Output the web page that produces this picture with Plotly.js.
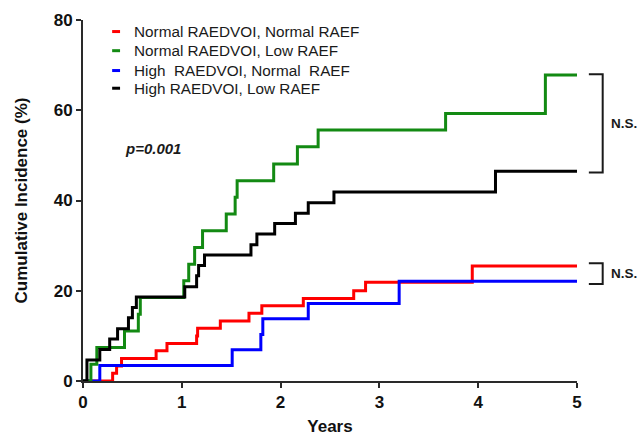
<!DOCTYPE html>
<html>
<head>
<meta charset="utf-8">
<script src="https://cdn.plot.ly/plotly-3.0.1.min.js"></script>
<style>html,body{margin:0;padding:0;background:#fff;} #chart{width:644px;height:436px;}</style>
</head>
<body>
<div id="chart"></div>
<script>
// ---- data ----
const seriesNames = [
  "Normal RAEDVOI, Normal RAEF",
  "Normal RAEDVOI, Low RAEF",
  "High  RAEDVOI, Normal  RAEF",
  "High RAEDVOI, Low RAEF"
];
const seriesColors = ["#ff0000", "#138a13", "#0000ff", "#000000"];

const redYears   = [0, 0.30, 0.34, 0.39, 0.74, 0.85, 1.15, 1.16, 1.39, 1.68, 1.81, 2.23, 2.74, 2.86, 3.94, 5];
const redValues  = [0, 1.7, 3.3, 5.0, 6.7, 8.3, 10.0, 11.7, 13.3, 15.0, 16.7, 18.3, 20.0, 21.9, 25.5, 25.5];

const greenYears  = [0, 0.08, 0.14, 0.42, 0.56, 0.58, 1.02, 1.07, 1.13, 1.21, 1.45, 1.54, 1.56, 1.93, 2.17, 2.38, 3.67, 4.68, 5];
const greenValues = [0, 3.7, 7.4, 11.1, 14.8, 18.5, 22.2, 25.9, 29.6, 33.3, 37.0, 40.7, 44.4, 48.1, 51.9, 55.6, 59.3, 67.8, 67.8];

const blueYears  = [0, 0.17, 1.51, 1.80, 1.82, 2.28, 3.20, 5];
const blueValues = [0, 3.45, 6.9, 10.3, 13.8, 17.2, 22.1, 22.1];

const blackYears  = [0, 0.04, 0.17, 0.27, 0.35, 0.46, 0.50, 0.54, 1.03, 1.15, 1.17, 1.23, 1.70, 1.76, 1.94, 2.15, 2.28, 2.54, 4.175, 5];
const blackValues = [0, 4.65, 7.0, 9.3, 11.6, 14.0, 16.3, 18.6, 20.9, 23.3, 25.6, 27.9, 30.2, 32.6, 34.9, 37.2, 39.5, 41.9, 46.5, 46.5];

const xTicks = [0, 1, 2, 3, 4, 5];
const yTicks = [0, 20, 40, 60, 80];
const pText = "p=0.001";
const nsText = "N.S.";

// ---- build ----
const FONT = "'Liberation Sans', Arial, Helvetica, sans-serif";
const xs = [redYears, greenYears, blueYears, blackYears];
const ys = [redValues, greenValues, blueValues, blackValues];

const traces = xs.map((x, i) => ({
  x: x, y: ys[i], type: "scatter", mode: "lines",
  line: {shape: "hv", color: seriesColors[i], width: 3},
  name: seriesNames[i], showlegend: false, hoverinfo: "skip"
}));
// draw order: red, blue under green/black
const ordered = [traces[0], traces[2], traces[1], traces[3]];

const Y_MAX = 80;
const shapes = [];
const annotations = [];

// manual legend
const legendY = [0.968, 0.915, 0.860, 0.811];
seriesNames.forEach((nm, i) => {
  shapes.push({type: "line", xref: "paper", yref: "paper",
    x0: 0.059, x1: 0.075, y0: legendY[i], y1: legendY[i],
    line: {color: seriesColors[i], width: 3}});
  annotations.push({xref: "paper", yref: "paper", x: 0.100, y: legendY[i],
    xanchor: "left", yanchor: "middle", showarrow: false, text: nm,
    font: {family: FONT, size: 15.3, color: "#1a1a1a"}});
});

// p-value
annotations.push({xref: "paper", yref: "paper", x: 0.080, y: 0.643,
  xanchor: "left", yanchor: "middle", showarrow: false,
  text: "<b><i>" + pText + "</i></b>",
  font: {family: FONT, size: 15, color: "#1a1a1a"}});

// brackets
function bracket(top, bot) {
  const x1 = 1.024, x2 = 1.052;
  const yt = top / Y_MAX, yb = bot / Y_MAX;
  shapes.push({type: "path", xref: "paper", yref: "paper",
    path: `M ${x1} ${yt} L ${x2} ${yt} L ${x2} ${yb} L ${x1} ${yb}`,
    line: {color: "#1a1a1a", width: 2}});
  annotations.push({xref: "paper", yref: "paper", x: 1.065, y: (yt + yb) / 2,
    xanchor: "left", yanchor: "middle", showarrow: false,
    text: "<b>" + nsText + "</b>",
    font: {family: FONT, size: 13.5, color: "#1a1a1a"}});
}
bracket(greenValues[greenValues.length - 1] + 0.2, blackValues[blackValues.length - 1] - 0.3);
bracket(redValues[redValues.length - 1] + 0.6, blueValues[blueValues.length - 1] - 0.6);

const axisCommon = {
  showgrid: false, zeroline: false, showline: true,
  linecolor: "#2a2a2a", linewidth: 2,
  ticks: "outside", ticklen: 5, tickwidth: 2, tickcolor: "#2a2a2a",
  tickfont: {family: FONT, size: 17, color: "#111", weight: "bold"},
  fixedrange: true
};

const layout = {
  width: 644, height: 436,
  margin: {l: 83, r: 67, t: 20, b: 55},
  paper_bgcolor: "#fff", plot_bgcolor: "#fff",
  showlegend: false,
  xaxis: Object.assign({}, axisCommon, {
    range: [0, 5], tickvals: xTicks, ticktext: xTicks.map(String),
    title: {text: "Years", font: {family: FONT, size: 17, color: "#111", weight: "bold"}, standoff: 16}
  }),
  yaxis: Object.assign({}, axisCommon, {
    range: [0, 80], tickvals: yTicks, ticktext: yTicks.map(String),
    title: {text: "Cumulative Incidence (%)", font: {family: FONT, size: 17, color: "#111", weight: "bold"}, standoff: 22}
  }),
  shapes: shapes,
  annotations: annotations
};

Plotly.newPlot("chart", ordered, layout, {displayModeBar: false, staticPlot: true});
</script>
</body>
</html>
